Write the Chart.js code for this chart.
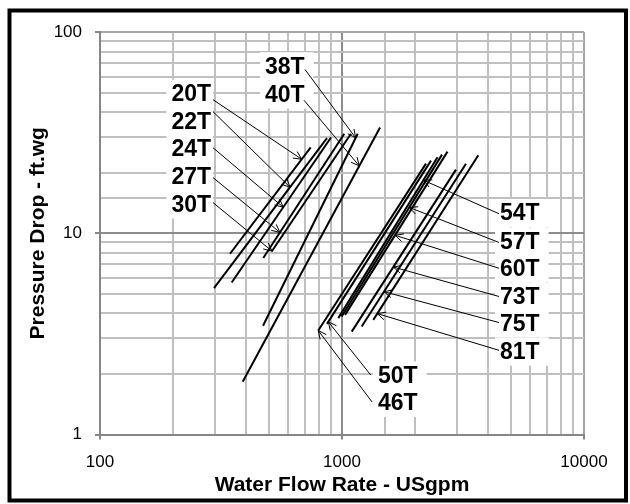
<!DOCTYPE html>
<html><head><meta charset="utf-8">
<script src="https://cdn.jsdelivr.net/npm/chart.js@4/dist/chart.umd.min.js"></script>
<style>html,body{margin:0;padding:0;background:#fff;} #wrap{width:630px;height:504px;position:relative;}</style>
</head><body><div id="wrap"><canvas id="c" width="630" height="504"></canvas></div>
<script>
// ---- data (flow in USgpm, pressure drop in ft.wg) ----
const models   = ['20T','22T','24T','27T','30T','38T','40T','46T','50T','54T','57T','60T','73T','75T','81T'];
const flowLow  = [344.5, 295.9, 350.1, 472.9, 512.3, 471.7, 388.8, 798.1, 866.9, 965.4, 996.9, 1029, 1097, 1206, 1347];
const dropLow  = [7.91, 5.34, 5.69, 7.53, 8.12, 3.47, 1.83, 3.285, 3.546, 3.786, 3.856, 3.93, 3.246, 3.44, 3.713];
const flowHigh = [742.6, 866.9, 900.6, 1022, 1089, 1161, 1436, 2224, 2332, 2481, 2590, 2729, 2958, 3253, 3658];
const dropHigh = [26.7, 29.7, 29.9, 31.2, 31.2, 31.2, 33.5, 22.17, 22.95, 23.88, 24.58, 25.44, 20.7, 22.17, 24.39];
const xTickLabels = [100, 1000, 10000];
const yTickLabels = [1, 10, 100];
const xTitle = 'Water Flow Rate - USgpm';
const yTitle = 'Pressure Drop - ft.wg';

// ---- callout labels (positions in data units) ----
const calloutModel = ['20T','22T','24T','27T','30T','38T','40T','50T','46T','54T','57T','60T','73T','75T','81T'];
const calloutFlow  = [290.3,290.3,290.3,290.3,290.3, 480.7,480.7, 1408,1408, 4497,4497,4497,4497,4497,4497];
const calloutDrop  = [49.4,35.9,26.3,19.1,13.9, 67.6,48.9, 1.966,1.435, 12.6,9.10,6.68,4.83,3.56,2.58];
const calloutAlign = ['right','right','right','right','right','left','left','left','left','left','left','left','left','left','left'];
const tailFlow     = [293.1,293.1,293.1,293.1,293.1, 703.2,696.6, 1314,1331, 4455,4455,4455,4455,4455,4455];
const tailDrop     = [46.1,40.2,26.6,18.9,14.2, 65.1,45.8, 1.975,1.451, 12.5,9.0,6.7,4.85,3.6,2.62];
const tipFlow      = [681.6,609.8,571.9,554.3,513.6, 1139,1179, 877.9,798.1, 2168,1897,1656,1629,1491,1399];

const datasets = models.map((m, i) => ({
  label: m,
  data: [{x: flowLow[i], y: dropLow[i]}, {x: flowHigh[i], y: dropHigh[i]}],
  showLine: true, borderColor: '#000', borderWidth: 2, pointRadius: 0, fill: false
}));

const FONT = '"Liberation Sans", Arial, sans-serif';

const decor = {
  id: 'decor',
  beforeDatasetsDraw(chart) {
    const ctx = chart.ctx, xs = chart.scales.x, ys = chart.scales.y;
    ctx.save();
    ctx.font = 'bold 23px ' + FONT;
    ctx.fillStyle = '#fff';
    calloutModel.forEach((t, i) => {
      const px = xs.getPixelForValue(calloutFlow[i]);
      const py = ys.getPixelForValue(calloutDrop[i]);
      const w = ctx.measureText(t).width;
      let l, r;
      if (calloutAlign[i] === 'right') { l = px - w - 6; r = px + 1; }
      else { l = px - 5; r = px + w + 9; }
      ctx.fillRect(l, py - 14, r - l, 28);
    });
    ctx.restore();
  },
  afterDatasetsDraw(chart) {
    const ctx = chart.ctx, xs = chart.scales.x, ys = chart.scales.y;
    ctx.save();
    // callouts
    calloutModel.forEach((t, i) => {
      const k = models.indexOf(t);
      const lf0 = Math.log10(flowLow[k]), lf1 = Math.log10(flowHigh[k]);
      const ld0 = Math.log10(dropLow[k]), ld1 = Math.log10(dropHigh[k]);
      const u = (Math.log10(tipFlow[i]) - lf0) / (lf1 - lf0);
      const tipDrop = Math.pow(10, ld0 + u * (ld1 - ld0));
      const x1 = xs.getPixelForValue(tailFlow[i]), y1 = ys.getPixelForValue(tailDrop[i]);
      const x2 = xs.getPixelForValue(tipFlow[i]), y2 = ys.getPixelForValue(tipDrop);
      ctx.strokeStyle = '#000'; ctx.lineWidth = 1;
      ctx.beginPath(); ctx.moveTo(x1, y1); ctx.lineTo(x2, y2); ctx.stroke();
      const a = Math.atan2(y2 - y1, x2 - x1), L = 9, s = 0.45;
      ctx.beginPath();
      ctx.moveTo(x2 - L * Math.cos(a - s), y2 - L * Math.sin(a - s));
      ctx.lineTo(x2, y2);
      ctx.lineTo(x2 - L * Math.cos(a + s), y2 - L * Math.sin(a + s));
      ctx.stroke();
      ctx.font = 'bold 23px ' + FONT;
      ctx.fillStyle = '#000';
      ctx.textBaseline = 'middle';
      ctx.textAlign = calloutAlign[i];
      const px = xs.getPixelForValue(calloutFlow[i]);
      const py = ys.getPixelForValue(calloutDrop[i]);
      ctx.fillText(t, px + (calloutAlign[i] === 'right' ? -1 : 0), py + 1);
    });
    // axis titles
    const ca = chart.chartArea;
    ctx.font = 'bold 21px ' + FONT;
    ctx.fillStyle = '#000';
    ctx.textAlign = 'center'; ctx.textBaseline = 'middle';
    ctx.fillText(xTitle, (ca.left + ca.right) / 2, 485);
    ctx.save();
    ctx.translate(38, (ca.top + ca.bottom) / 2);
    ctx.rotate(-Math.PI / 2);
    ctx.fillText(yTitle, 0, 0);
    ctx.restore();
    // outer frame
    ctx.strokeStyle = '#000'; ctx.lineWidth = 4;
    ctx.strokeRect(9.5, 10.5, 616.5, 490);
    ctx.restore();
  }
};

const isMajor = v => Math.abs(Math.log10(v) - Math.round(Math.log10(v))) < 1e-6;

new Chart(document.getElementById('c'), {
  type: 'scatter',
  data: { datasets },
  plugins: [decor],
  options: {
    responsive: false, animation: false, devicePixelRatio: 1,
    layout: { padding: { left: 0, top: 32, right: 46, bottom: 0 } },
    plugins: { legend: { display: false }, tooltip: { enabled: false } },
    scales: {
      x: {
        type: 'logarithmic', min: 100, max: 10000,
        afterFit: s => { s.height = 69.5; },
        border: { display: true, color: '#868686', width: 2 },
        grid: {
          lineWidth: 2, tickLength: 5,
          color: c => (c.tick && c.tick.value === 1000) ? '#8c8c8c' : (c.tick && isMajor(c.tick.value) ? '#a6a6a6' : '#c0c0c0'),
          tickColor: c => (c.tick && isMajor(c.tick.value)) ? '#868686' : 'rgba(0,0,0,0)'
        },
        ticks: {
          autoSkip: false, maxRotation: 0, padding: 13, color: '#000',
          font: { family: FONT, size: 17 },
          callback: v => xTickLabels.includes(v) ? String(v) : ''
        }
      },
      y: {
        type: 'logarithmic', min: 1, max: 100,
        afterFit: s => { s.width = 100; },
        border: { display: true, color: '#868686', width: 2 },
        grid: {
          lineWidth: 2, tickLength: 5,
          color: c => (c.tick && c.tick.value === 10) ? '#8c8c8c' : (c.tick && isMajor(c.tick.value) ? '#a6a6a6' : '#c0c0c0'),
          tickColor: c => (c.tick && isMajor(c.tick.value)) ? '#868686' : 'rgba(0,0,0,0)'
        },
        ticks: {
          autoSkip: false, padding: 13, color: '#000',
          font: { family: FONT, size: 17 },
          callback: v => yTickLabels.includes(v) ? String(v) : ''
        }
      }
    }
  }
});
</script></body></html>
